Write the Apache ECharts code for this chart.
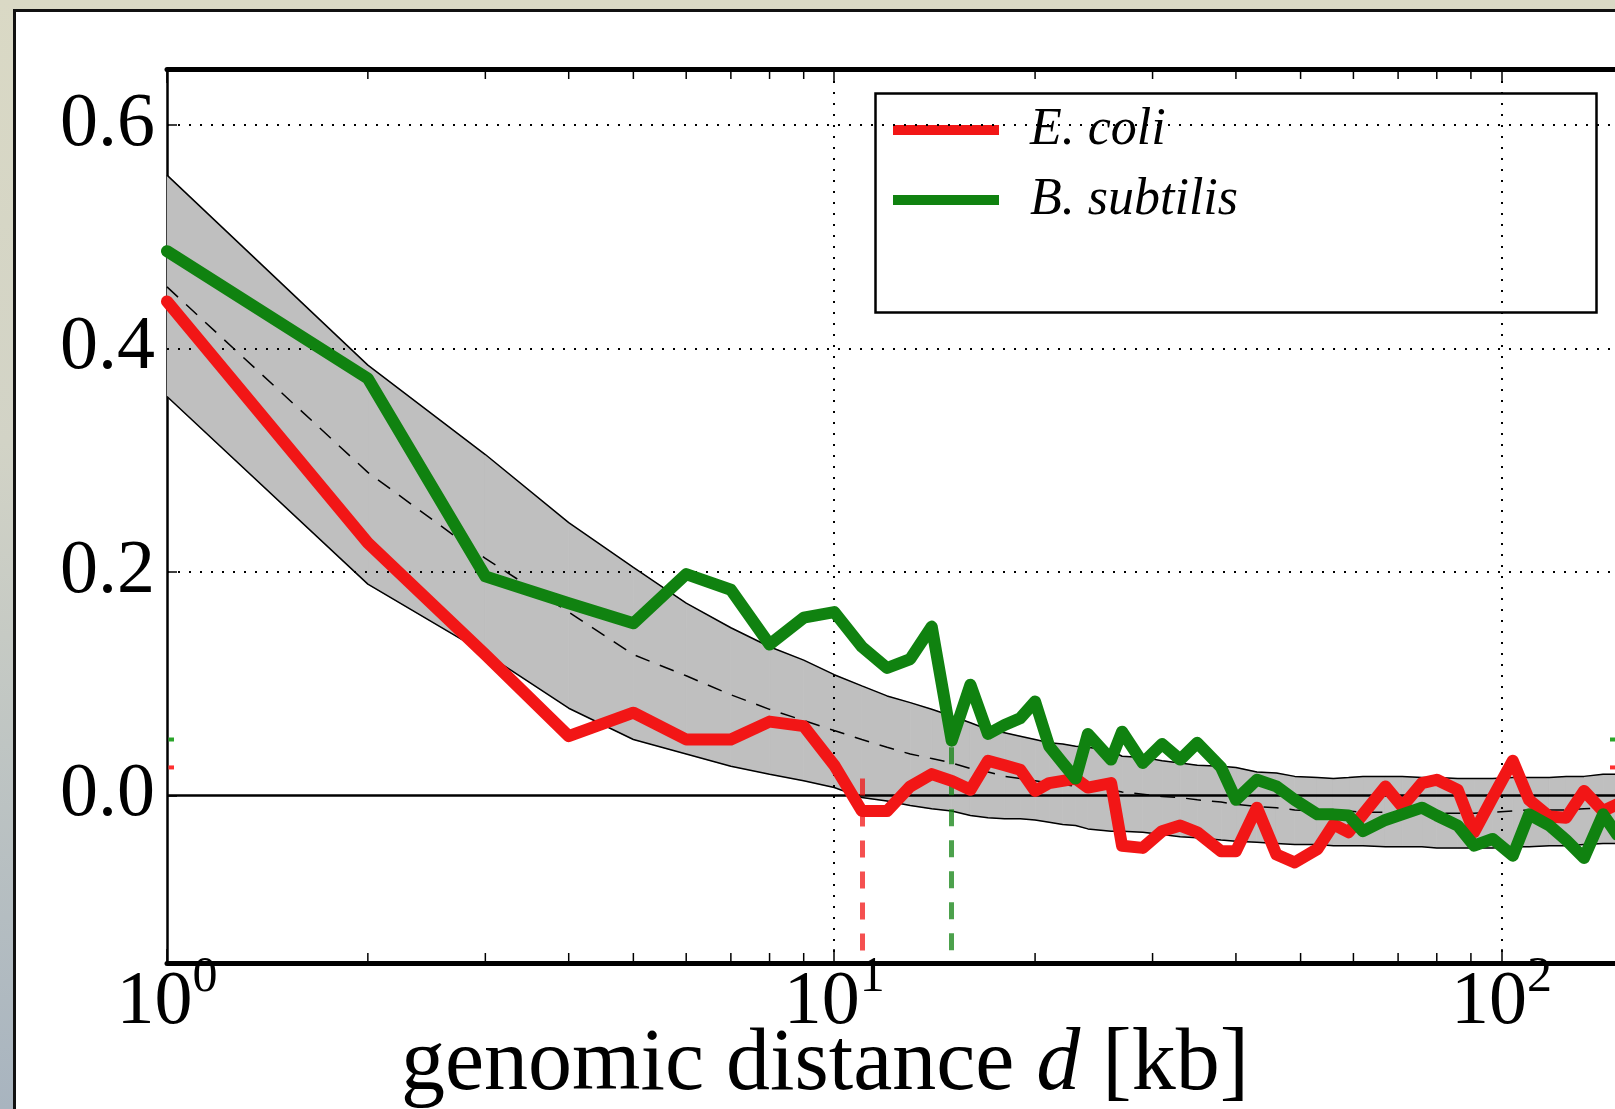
<!DOCTYPE html>
<html><head><meta charset="utf-8">
<script src="https://cdn.jsdelivr.net/npm/echarts/dist/echarts.min.js"></script>
<style>
html,body{margin:0;padding:0;width:1615px;height:1109px;overflow:hidden;}
body{background:linear-gradient(to bottom,#dad9c5 0%,#d2d3c6 40%,#a8b4bf 100%);}
#frame{position:absolute;left:13px;top:9px;width:1700px;height:1200px;background:#fff;border-left:3px solid #111;border-top:3px solid #111;}
#chart{position:absolute;left:0;top:0;width:1615px;height:1109px;}
</style></head><body><div id="frame"></div><div id="chart"></div>
<script>
// genomic distance d [kb]
const distances = [1,2,3,4,5,6,7,8,9,10,11,12,13,14,15,16,17,18,19,20,21,22,23,
  24,26,27,29,31,33,35,38,40,43,46,49,53,
  56,59,62,67,71,76,80,86,91,97,104,110,118,125,133,142,149];
const ecoli = [0.442,0.226,0.126,0.053,0.074,0.050,0.050,0.066,0.062,0.027,-0.014,-0.014,0.008,0.019,0.013,0.005,0.031,0.027,0.023,0.004,0.011,0.013,0.015,
  0.007,0.011,-0.045,-0.047,-0.032,-0.027,-0.033,-0.050,-0.050,-0.011,-0.053,-0.060,-0.048,
  -0.026,-0.033,-0.017,0.008,-0.010,0.011,0.014,0.005,-0.033,-0.002,0.031,-0.004,-0.019,-0.020,0.004,-0.014,-0.008];
const bsubtilis = [0.487,0.373,0.196,0.172,0.154,0.198,0.184,0.135,0.159,0.164,0.133,0.114,0.122,0.151,0.049,0.099,0.055,0.063,0.069,0.084,0.044,0.029,0.015,
  0.055,0.032,0.057,0.029,0.046,0.032,0.047,0.025,-0.004,0.014,0.008,-0.004,-0.017,
  -0.017,-0.018,-0.032,-0.022,-0.017,-0.011,-0.018,-0.027,-0.045,-0.039,-0.054,-0.017,-0.027,-0.040,-0.056,-0.017,-0.035];
const nullUpper = [0.555,0.385,0.305,0.244,0.204,0.172,0.150,0.133,0.121,0.108,0.098,0.089,0.083,0.077,0.071,0.065,0.059,0.056,0.053,0.050,0.047,0.046,0.044,
  0.043,0.040,0.035,0.034,0.031,0.029,0.027,0.026,0.025,0.021,0.020,0.017,0.016,
  0.015,0.016,0.017,0.017,0.017,0.016,0.016,0.015,0.015,0.015,0.016,0.016,0.016,0.017,0.017,0.019,0.019];
const nullLower = [0.357,0.189,0.127,0.078,0.050,0.037,0.026,0.019,0.013,0.007,-0.002,-0.005,-0.009,-0.012,-0.014,-0.018,-0.020,-0.021,-0.021,-0.022,-0.024,-0.026,-0.027,
  -0.030,-0.032,-0.032,-0.033,-0.035,-0.037,-0.038,-0.040,-0.041,-0.042,-0.043,-0.044,-0.044,
  -0.045,-0.045,-0.045,-0.046,-0.046,-0.046,-0.047,-0.047,-0.047,-0.047,-0.046,-0.046,-0.045,-0.045,-0.044,-0.043,-0.043];
const nullMean = [0.455,0.289,0.212,0.164,0.126,0.107,0.090,0.077,0.067,0.058,0.050,0.043,0.037,0.033,0.029,0.024,0.021,0.017,0.015,0.013,0.011,0.010,0.008,
  0.006,0.005,0.003,0.001,-0.001,-0.002,-0.004,-0.006,-0.008,-0.010,-0.011,-0.013,-0.014,
  -0.014,-0.014,-0.015,-0.015,-0.015,-0.016,-0.016,-0.016,-0.016,-0.015,-0.014,-0.013,-0.013,-0.013,-0.012,-0.011,-0.011];
const yTickValues = [0.0, 0.2, 0.4, 0.6];
const xGridValues = [10, 100];
const xMinorTicks = [2,3,4,5,6,7,8,9,20,30,40,50,60,70,80,90];
const cutoffEcoli = [11, 0.015];
const cutoffBsubtilis = [15, 0.043];
const edgeLevelEcoli = 0.025;
const edgeLevelBsubtilis = 0.050;
const X_MIN = 1, X_MAX = 149, Y_MIN = -0.15, Y_MAX = 0.65;

const RED = '#f21616', GREEN = '#108210';
const FONT = '"Liberation Serif", "DejaVu Serif", serif';
const pairs = a => distances.map((d, i) => [d, a[i]]);
const bandSegments = distances.slice(0, -1).map((d, i) =>
  [d, nullLower[i], nullUpper[i], distances[i + 1], nullLower[i + 1], nullUpper[i + 1]]);

const chart = echarts.init(document.getElementById('chart'), null, {renderer: 'canvas'});
const supLabel = v => {
  const e = Math.log10(v);
  if (Math.abs(e - Math.round(e)) > 1e-6) return '';
  return '{b|10}{s|' + Math.round(e) + '}';
};

const option = {
  backgroundColor: 'transparent',
  animation: false,
  grid: {left: 167, top: 69, width: 1450, height: 894, containLabel: false, outerBoundsMode: 'none'},
  xAxis: [{
    type: 'log', logBase: 10, min: X_MIN, max: X_MAX, position: 'bottom',
    axisLine: {onZero: false, lineStyle: {color: '#000', width: 5}},
    axisTick: {inside: true, length: 14, lineStyle: {color: '#000', width: 1.5}},
    axisLabel: {margin: -10, formatter: supLabel, showMaxLabel: false,
      rich: {b: {fontFamily: FONT, fontSize: 76, color: '#000', lineHeight: 88, verticalAlign: 'bottom'},
             s: {fontFamily: FONT, fontSize: 50, color: '#000', lineHeight: 50, verticalAlign: 'top'}}},
    splitLine: {show: false}
  }, {
    type: 'log', logBase: 10, min: X_MIN, max: X_MAX, position: 'top',
    axisLine: {onZero: false, lineStyle: {color: '#000', width: 5}},
    axisTick: {inside: true, length: 14, lineStyle: {color: '#000', width: 1.5}},
    axisLabel: {show: false}, splitLine: {show: false}
  }],
  yAxis: {
    type: 'value', min: Y_MIN, max: Y_MAX,
    axisLine: {show: true, onZero: false, lineStyle: {color: '#000', width: 2.5}},
    axisTick: {show: true, inside: true, length: 10, customValues: yTickValues, lineStyle: {color: '#000', width: 1.5}},
    axisLabel: {customValues: yTickValues, formatter: v => v.toFixed(1), fontFamily: FONT, fontSize: 76, color: '#000', margin: 12},
    splitLine: {show: false}
  },
  legend: {
    orient: 'vertical', left: 888, top: 99, itemWidth: 106, itemHeight: 10, itemGap: 18, icon: 'rect',
    textStyle: {fontFamily: FONT, fontStyle: 'italic', fontSize: 52, color: '#000', padding: [0, 0, 0, 26]},
    data: ['E. coli', 'B. subtilis'], selectedMode: false
  },
  graphic: [
    {type: 'rect', left: 873, top: 91, z: 100, silent: true,
     shape: {width: 721, height: 219}, style: {fill: null, stroke: '#000', lineWidth: 2.5}},
    {type: 'text', x: 825, y: 1066, z: 100, silent: true,
     style: {text: 'genomic distance {i|d} [kb]', fontFamily: FONT, fontSize: 88, fill: '#000',
       align: 'center', verticalAlign: 'middle',
       rich: {i: {fontFamily: FONT, fontSize: 88, fontStyle: 'italic', fill: '#000'}}}}
  ],
  series: [
    {name: 'nullBand', type: 'custom', silent: true, z: 1, clip: true,
     data: bandSegments,
     renderItem: (params, api) => {
       const a = api.coord([api.value(0), api.value(1)]);
       const b = api.coord([api.value(3), api.value(4)]);
       const c = api.coord([api.value(3), api.value(5)]);
       const d = api.coord([api.value(0), api.value(2)]);
       return {type: 'polygon', shape: {points: [a, b, c, d]},
               style: {fill: '#bfbfbf', stroke: '#bfbfbf', lineWidth: 0.8}};
     }},
    {name: 'upperEdge', type: 'line', data: pairs(nullUpper), symbol: 'none',
     lineStyle: {color: '#000', width: 1.5}, silent: true, z: 2},
    {name: 'lowerEdge', type: 'line', data: pairs(nullLower), symbol: 'none',
     lineStyle: {color: '#000', width: 1.5}, silent: true, z: 2},
    {name: 'gridRefs', type: 'line', data: pairs(nullMean), symbol: 'none', lineStyle: {opacity: 0}, silent: true, z: 3,
     markLine: {silent: true, symbol: ['none', 'none'], label: {show: false},
       lineStyle: {color: '#000', width: 2, type: [2, 9]},
       data: yTickValues.filter(v => v !== 0).map(v => ({yAxis: v}))
         .concat(xGridValues.map(v => ({xAxis: v})))
         .concat([{yAxis: 0, lineStyle: {type: 'solid', width: 2.5, color: '#000'}}])}},
    {name: 'nullMean', type: 'line', data: pairs(nullMean), symbol: 'none',
     lineStyle: {color: '#000', width: 1.5, type: [15, 11]}, silent: true, z: 3},
    {name: 'E. coli', type: 'line', data: pairs(ecoli), symbol: 'none', color: RED,
     lineStyle: {color: RED, width: 12, cap: 'round', join: 'round'}, z: 5,
     markLine: {silent: true, symbol: ['none', 'none'], label: {show: false},
       lineStyle: {color: RED, width: 5, type: [17, 14], opacity: 0.75},
       emphasis: {disabled: true},
       data: [[{coord: [cutoffEcoli[0], cutoffEcoli[1]]}, {coord: [cutoffEcoli[0], Y_MIN]}]]}},
    {name: 'B. subtilis', type: 'line', data: pairs(bsubtilis), symbol: 'none', color: GREEN,
     lineStyle: {color: GREEN, width: 12, cap: 'round', join: 'round'}, z: 6,
     markLine: {silent: true, symbol: ['none', 'none'], label: {show: false},
       lineStyle: {color: GREEN, width: 5, type: [17, 14], opacity: 0.75},
       emphasis: {disabled: true},
       data: [[{coord: [cutoffBsubtilis[0], cutoffBsubtilis[1]]}, {coord: [cutoffBsubtilis[0], Y_MIN]}]]}},
    {name: 'minorTicks', type: 'custom', silent: true, z: 7, clip: false,
     data: xMinorTicks.map(v => [v, 0]),
     renderItem: (params, api) => {
       const v = api.value(0);
       const top = api.coord([v, Y_MAX]), bot = api.coord([v, Y_MIN]);
       const st = {stroke: '#000', lineWidth: 1.5};
       return {type: 'group', children: [
         {type: 'line', shape: {x1: top[0], y1: top[1], x2: top[0], y2: top[1] + 10}, style: st},
         {type: 'line', shape: {x1: bot[0], y1: bot[1], x2: bot[0], y2: bot[1] - 10}, style: st}]};
     }},
    {name: 'edgeMarks', type: 'custom', silent: true, z: 7, clip: false,
     data: [[X_MIN, edgeLevelBsubtilis, 0], [X_MAX, edgeLevelBsubtilis, 0], [X_MIN, edgeLevelEcoli, 1], [X_MAX, edgeLevelEcoli, 1]],
     renderItem: (params, api) => {
       const p = api.coord([api.value(0), api.value(1)]);
       const dir = api.value(0) === X_MIN ? 1 : -1;
       const col = api.value(2) === 0 ? '#2aa52a' : '#ff3030';
       return {type: 'line', shape: {x1: p[0] + dir * 1.5, y1: p[1], x2: p[0] + dir * 7, y2: p[1]},
               style: {stroke: col, lineWidth: 4}};
     }}
  ]
};
chart.setOption(option);
</script></body></html>
